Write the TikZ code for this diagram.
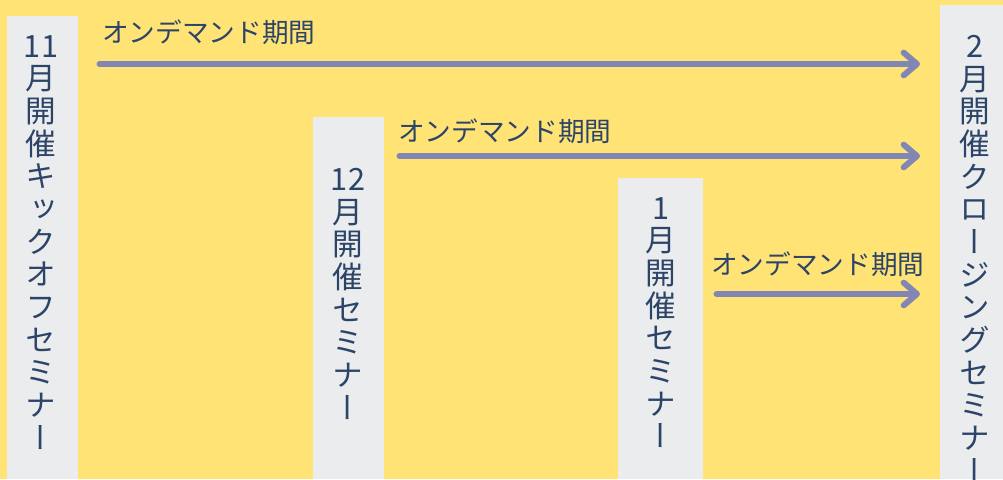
\documentclass[tikz,border=0pt]{standalone}
\usepackage{fontspec}
\setmainfont{Noto Sans CJK JP}
\newfontfamily\jpfont{Noto Sans CJK JP}
\newfontfamily\jpvert[RawFeature=+vert]{Noto Sans CJK JP}
\usetikzlibrary{arrows.meta,positioning}
\definecolor{bgyellow}{RGB}{255,228,117}
\definecolor{panelgray}{RGB}{235,236,238}
\definecolor{periodblue}{RGB}{130,134,180}
\definecolor{inknavy}{RGB}{44,68,104}
\begin{document}
\begin{tikzpicture}[
    x=0.75pt, y=-0.75pt,
    panel/.style={rectangle, fill=panelgray, anchor=north west, inner sep=0pt},
    vlabel/.style={anchor=north, inner sep=0pt, align=center, text=inknavy, font=\jpvert\fontsize{23}{24.5}\selectfont},
    period/.style={anchor=base west, inner sep=0pt, text=inknavy, font=\jpfont\fontsize{20}{24}\selectfont},
    arrow/.style={draw=periodblue, line width=4.5pt, line cap=round, -{Straight Barb[length=10pt, width=17pt, round]}}
]
    % Background
    \fill [bgyellow] (0,0) rectangle (1003,479);
    \useasboundingbox (0,0) rectangle (1003,479);

    % Seminar panels
    \node [panel, minimum width={71*0.75pt}, minimum height={463*0.75pt}] (kickoff) at (7,16) {};
    \node [panel, minimum width={71*0.75pt}, minimum height={362*0.75pt}] (decsem) at (313,117) {};
    \node [panel, minimum width={85*0.75pt}, minimum height={301*0.75pt}] (jansem) at (618,178) {};
    \node [panel, minimum width={63*0.75pt}, minimum height={474*0.75pt}] (closing) at (940,5) {};

    % Seminar names
    \node [vlabel] (kickofftext) at (41,35) {11\\月\\開\\催\\キ\\ッ\\ク\\オ\\フ\\セ\\ミ\\ナ\\ー};
    \node [vlabel] (decsemtext) at (348,168) {12\\月\\開\\催\\セ\\ミ\\ナ\\ー};
    \node [vlabel] (jansemtext) at (661,197) {1\\月\\開\\催\\セ\\ミ\\ナ\\ー};
    \node [vlabel] (closingtext) at (975,35) {2\\月\\開\\催\\ク\\ロ\\ー\\ジ\\ン\\グ\\セ\\ミ\\ナ\\ー};

    % On-demand labels
    \node [period] (od1) at (102,42) {オンデマンド期間};
    \node [period] (od2) at (398,141) {オンデマンド期間};
    \node [period] (od3) at (711,274) {オンデマンド期間};

    % Arrows
    \draw [arrow, shorten <=15.75pt, shorten >=15pt] (kickoff.east |- 0,64) -- (closing.west |- 0,64);
    \draw [arrow, shorten <=11.25pt, shorten >=15pt] (decsem.east |- 0,156) -- (closing.west |- 0,156);
    \draw [arrow, shorten <=9.75pt, shorten >=15pt] (jansem.east |- 0,294) -- (closing.west |- 0,294);
\end{tikzpicture}
\end{document}
